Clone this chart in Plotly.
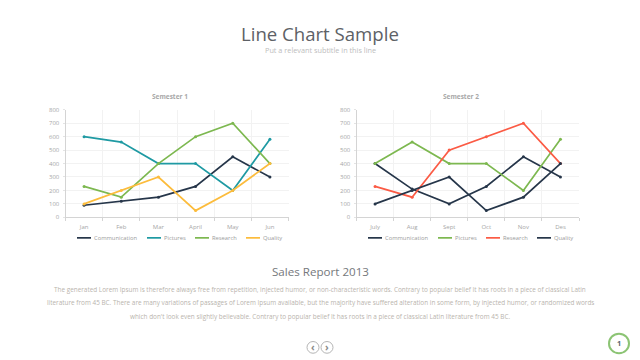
import plotly.graph_objects as go

months_1 = ["Jan", "Feb", "Mar", "April", "May", "Jun"]
months_2 = ["July", "Aug", "Sept", "Oct", "Nov", "Des"]
series_names = ["Communication", "Pictures", "Research", "Quality"]
ticks_y = [0, 100, 200, 300, 400, 500, 600, 700, 800]

s1_communication = [90, 120, 150, 230, 450, 300]
s1_pictures = [600, 560, 400, 400, 200, 580]
s1_research = [230, 150, 400, 600, 700, 400]
s1_quality = [100, 200, 300, 50, 200, 400]

s2_communication = [400, 210, 100, 230, 450, 300]
s2_pictures = [400, 560, 400, 400, 200, 580]
s2_research = [230, 150, 500, 600, 700, 400]
s2_quality = [100, 200, 300, 50, 150, 400]

colors_1 = ["#26364a", "#1f9aa3", "#7db850", "#fcbc3c"]
colors_2 = ["#26364a", "#7db850", "#fb5b45", "#26364a"]

W, H = 640, 360
PAGE_MARGIN = 8  # the browser's default body margin
FONT = "Open Sans"


def px(x):
    return (x - PAGE_MARGIN) / W


def py(y):
    return 1 - (y - PAGE_MARGIN) / H


fig = go.Figure()
panels = [
    ("x", "y", months_1, [s1_communication, s1_pictures, s1_research, s1_quality], colors_1),
    ("x2", "y2", months_2, [s2_communication, s2_pictures, s2_research, s2_quality], colors_2),
]
for xa, ya, cats, values, cols in panels:
    for name, vals, col in zip(series_names, values, cols):
        fig.add_trace(go.Scatter(
            x=cats, y=vals, name=name, mode="lines+markers", xaxis=xa, yaxis=ya,
            line=dict(color=col, width=1.7), marker=dict(color=col, size=3),
            showlegend=False,
        ))

axis_common = dict(
    showgrid=True, gridcolor="#f2f2f2", gridwidth=1, zeroline=False,
    showline=True, linecolor="#d4d4d4", linewidth=1,
    tickfont=dict(family=FONT, size=6, color="#a6a6a6"),
)
x_common = dict(axis_common, type="category", range=[-0.5, 5.5], tickson="boundaries",
                ticks="outside", ticklen=3, tickcolor="#d4d4d4", tickangle=0,
                ticklabelstandoff=3)
y_common = dict(axis_common, range=[0, 800], tickvals=ticks_y, ticks="outside",
                ticklen=2, tickcolor="#e4e4e4", ticklabelstandoff=2)

annotations = []
shapes = []


def text(x, y, s, size, color, **kw):
    annotations.append(dict(
        x=px(x), y=py(y), xref="paper", yref="paper", text=s, showarrow=False,
        xanchor=kw.get("xanchor", "center"), yanchor="middle",
        font=dict(family=FONT, size=size, color=color),
    ))


text(320, 29.5, "Line Chart Sample", 18.6, "#5d6166")
text(320, 46.5, "Put a relevant subtitle in this line", 7.3, "#bdbdbd")
text(170, 94.5, "<b>Semester 1</b>", 6.5, "#a8a8a8")
text(460.5, 94.5, "<b>Semester 2</b>", 6.5, "#a8a8a8")
text(320, 273, "Sales Report 2013", 11.6, "#75787c")
para_color = "#b9b4ad"
text(320, 291.5, "The generated Lorem Ipsum is therefore always free from repetition, injected humor, or non-characteristic words. Contrary to popular belief It has roots in a piece of classical Latin", 6.4, para_color)
text(320, 305.5, "literature from 45 BC. There are many variations of passages of Lorem Ipsum available, but the majority have suffered alteration in some form, by injected humor, or randomized words", 6.4, para_color)
text(320, 319, "which don't look even slightly believable. Contrary to popular belief It has roots in a piece of classical Latin literature from 45 BC.", 6.4, para_color)

# hand-built legends, for the short key lines of the reference
legend_layouts = [
    (colors_1, [(77, 91), (147, 161), (195, 209), (246, 260)]),
    (colors_2, [(368, 382), (438, 452), (486, 500), (537, 551)]),
]
for cols, spots in legend_layouts:
    for name, col, (x0, x1) in zip(series_names, cols, spots):
        shapes.append(dict(type="line", xref="paper", yref="paper",
                           x0=px(x0), x1=px(x1), y0=py(239), y1=py(239),
                           line=dict(color=col, width=1.7)))
        text(x1 + 1, 239, name, 5.8, "#9b9b9b", xanchor="left")

# pager buttons and page badge
for cx, ch in [(313, "‹"), (327, "›")]:
    shapes.append(dict(type="circle", xref="paper", yref="paper",
                       x0=px(cx - 6), x1=px(cx + 6), y0=py(357), y1=py(345),
                       line=dict(color="#b5b5b5", width=1)))
    text(cx, 350.5, f"<b>{ch}</b>", 10, "#8a8a8a")
shapes.append(dict(type="circle", xref="paper", yref="paper",
                   x0=px(609), x1=px(629), y0=py(357), y1=py(337),
                   line=dict(color="#8cc474", width=2)))
text(619, 347, "<b>1</b>", 7.5, "#5c6670")

fig.update_layout(
    width=W, height=H, margin=dict(l=0, r=0, t=0, b=0),
    paper_bgcolor="#ffffff", plot_bgcolor="#ffffff", showlegend=False,
    xaxis=dict(x_common, domain=[px(65.5), px(288.5)], anchor="y"),
    yaxis=dict(y_common, domain=[py(218), py(108)], anchor="x"),
    xaxis2=dict(x_common, domain=[px(356.5), px(579)], anchor="y2"),
    yaxis2=dict(y_common, domain=[py(218), py(108)], anchor="x2"),
    annotations=annotations, shapes=shapes,
)
fig.write_html("out.html", config={"displayModeBar": False})
